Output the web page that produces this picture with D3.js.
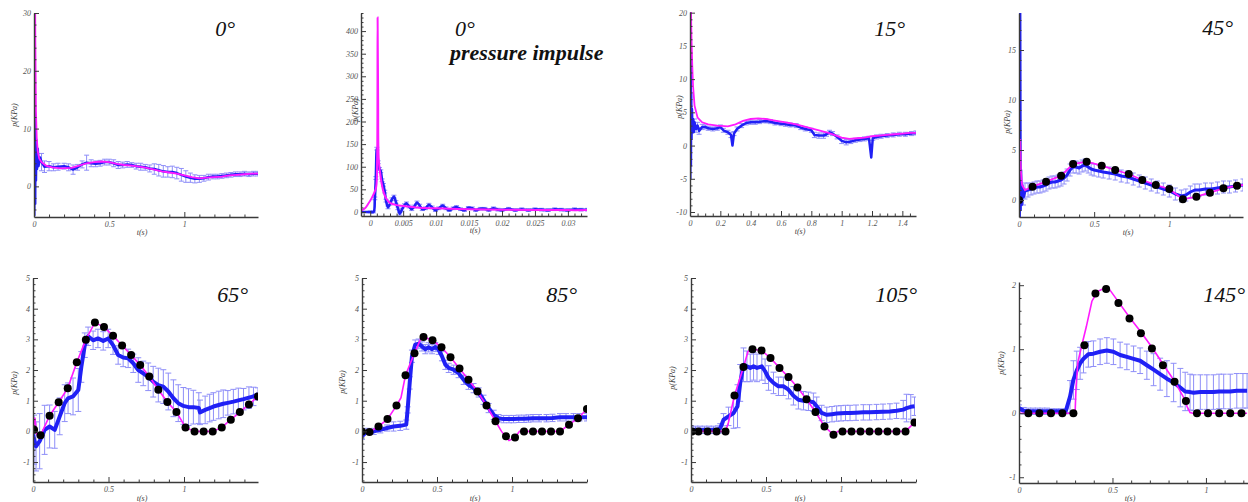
<!DOCTYPE html>
<html>
<head>
<meta charset="utf-8">
<script src="https://cdn.jsdelivr.net/npm/d3@7"></script>
<style>
  html, body { margin: 0; padding: 0; background: #fff; }
  svg { display: block; }
</style>
</head>
<body>
<svg id="chart" width="1248" height="502"></svg>
<script>
// ---------------- data: simulation (magenta) [t, p] ----------------
const sim0 = [[0,0],[0.001,40],[0.006,40],[0.009,25],[0.013,13],[0.018,8.5],[0.025,6],[0.035,4.8],[0.05,4.2],[0.08,3.6],[0.12,3.3],[0.18,3.1],[0.25,3.2],[0.3,3.6],[0.35,4.0],[0.4,4.2],[0.45,4.3],[0.5,4.2],[0.55,3.9],[0.6,3.7],[0.65,3.6],[0.7,3.4],[0.75,3.2],[0.8,2.9],[0.85,2.6],[0.9,2.4],[0.95,2.2],[1.0,1.9],[1.05,1.6],[1.1,1.4],[1.15,1.5],[1.2,1.6],[1.25,1.7],[1.3,1.9],[1.35,2.0],[1.4,2.1],[1.45,2.2],[1.49,2.2]];
const simImp = [[-0.0014,3],[-0.0008,8],[-0.0003,18],[0.0002,30],[0.0006,42],[0.0009,55],[0.00105,120],[0.00112,430],[0.0012,250],[0.0013,115],[0.0016,75],[0.002,45],[0.0025,28],[0.003,20],[0.004,15],[0.005,13],[0.007,10],[0.01,8],[0.015,6],[0.02,5],[0.025,4.5],[0.03,4],[0.033,4]];
const sim15 = [[0,0],[0.001,21],[0.006,21],[0.01,16],[0.015,12],[0.02,9],[0.03,6],[0.05,4.2],[0.08,3.5],[0.12,3.2],[0.18,3.0],[0.25,2.9],[0.3,3.2],[0.35,3.7],[0.4,4.0],[0.45,4.1],[0.5,4.0],[0.55,3.8],[0.6,3.6],[0.65,3.4],[0.7,3.2],[0.75,2.9],[0.8,2.6],[0.85,2.3],[0.9,2.0],[0.95,1.6],[1.0,1.2],[1.05,1.0],[1.1,1.1],[1.15,1.2],[1.2,1.4],[1.25,1.5],[1.3,1.6],[1.35,1.7],[1.4,1.8],[1.45,1.9],[1.49,1.9]];
const sim45 = [[0,0],[0.003,6],[0.008,6],[0.012,3],[0.02,1.5],[0.04,1.0],[0.09,1.33],[0.18,1.83],[0.28,2.43],[0.36,3.6],[0.45,3.83],[0.55,3.43],[0.64,3.0],[0.73,2.6],[0.82,2.0],[0.91,1.5],[1.0,1.1],[1.09,0.07],[1.18,0.33],[1.27,0.73],[1.36,1.17],[1.45,1.43],[1.49,1.5]];
const sim65 = [[0,0],[0.012,0.45],[0.025,-0.1],[0.05,-0.13],[0.11,0.51],[0.17,0.95],[0.23,1.41],[0.29,2.25],[0.35,2.99],[0.41,3.55],[0.47,3.4],[0.53,3.12],[0.59,2.8],[0.65,2.49],[0.71,2.16],[0.77,1.79],[0.83,1.36],[0.89,0.96],[0.95,0.63],[1.01,0.13],[1.07,0],[1.13,0],[1.19,0],[1.25,0.13],[1.31,0.38],[1.37,0.63],[1.43,0.88],[1.49,1.14]];
const sim85 = [[0,0],[0.05,-0.02],[0.11,0.16],[0.17,0.4],[0.23,0.84],[0.26,1.1],[0.29,1.83],[0.35,2.55],[0.39,3.0],[0.41,3.08],[0.47,2.97],[0.53,2.74],[0.59,2.42],[0.65,2.05],[0.71,1.68],[0.77,1.3],[0.83,0.84],[0.89,0.33],[0.93,0.0],[0.98,-0.3],[1.02,-0.2],[1.05,0],[1.08,0],[1.14,0],[1.2,0],[1.26,0],[1.32,0],[1.38,0.22],[1.44,0.43],[1.5,0.73]];
const sim105 = [[0,0],[0.23,0],[0.25,0.3],[0.29,1.17],[0.35,2.1],[0.38,2.6],[0.41,2.68],[0.47,2.64],[0.53,2.39],[0.59,2.07],[0.65,1.77],[0.71,1.43],[0.77,1.05],[0.83,0.63],[0.89,0.16],[0.95,-0.11],[0.98,0],[1.01,0],[1.07,0],[1.13,0],[1.19,0],[1.25,0],[1.31,0],[1.37,0],[1.43,0],[1.49,0.29]];
const sim145 = [[0,0],[0.3,0],[0.305,0.4],[0.315,0.8],[0.335,1.05],[0.36,1.35],[0.39,1.75],[0.42,1.9],[0.46,1.96],[0.48,1.95],[0.532,1.74],[0.591,1.5],[0.652,1.27],[0.711,1.03],[0.77,0.77],[0.832,0.5],[0.88,0.25],[0.9,0.1],[0.915,0.01],[0.93,0],[1.22,0]];

// ---------------- data: experiment mean (blue) [t, p, error] ----------------
const exp0 = [[0,0,0],[0.002,-5,0],[0.004,22,0],[0.006,3,0],[0.008,-3,0],[0.01,12,0],[0.013,1,0],[0.016,8,0],[0.02,3,0],[0.025,6.5,0],[0.03,3.5,0],[0.04,5,0],[0.05,4.2,1.5],[0.07,3.4,1.0],[0.1,3.5,0.8],[0.13,3.3,0.6],[0.16,3.4,0.6],[0.2,3.5,0.5],[0.23,3.3,0.6],[0.26,2.9,0.8],[0.29,3.3,0.5],[0.32,3.8,0.6],[0.35,4.1,1.3],[0.38,4.0,0.6],[0.41,3.9,0.5],[0.44,4.0,0.5],[0.47,4.2,0.5],[0.5,4.2,0.5],[0.53,4.0,0.6],[0.56,3.7,0.6],[0.59,3.7,0.5],[0.62,3.8,0.5],[0.65,3.7,0.4],[0.68,3.5,0.5],[0.71,3.4,0.6],[0.74,3.3,0.5],[0.77,3.1,0.6],[0.8,3.0,0.9],[0.83,2.8,1.0],[0.86,2.6,1.0],[0.89,2.5,0.9],[0.92,2.5,1.0],[0.95,2.3,1.0],[0.98,2.0,1.1],[1.01,1.7,1.0],[1.04,1.5,0.8],[1.07,1.3,0.7],[1.1,1.3,0.6],[1.13,1.4,0.5],[1.16,1.6,0.5],[1.19,1.7,0.4],[1.22,1.7,0.4],[1.25,1.8,0.4],[1.28,1.9,0.4],[1.31,2.0,0.4],[1.34,2.1,0.4],[1.37,2.1,0.4],[1.4,2.2,0.4],[1.43,2.1,0.4],[1.46,2.2,0.4],[1.49,2.2,0.4]];
const expImp = [[-0.0014,0,0],[0,0,2],[0.0005,0,2],[0.0007,30,3],[0.00085,75,3],[0.001,140,3],[0.0012,110,3],[0.0014,95,3],[0.0016,90,3],[0.0018,70,3],[0.002,60,3],[0.0022,45,3],[0.0024,25,3],[0.0027,10,3],[0.003,18,3],[0.0033,28,3],[0.0036,34,3],[0.0039,22,3],[0.0042,8,3],[0.0045,-4,3],[0.0048,5,3],[0.0052,15,3],[0.0055,19,3],[0.0059,12,3],[0.0063,6,3],[0.0067,12,3],[0.0071,21,3],[0.0075,14,3],[0.0079,6,3],[0.0084,8,3],[0.0089,16,3],[0.0094,10,3],[0.0099,4,3],[0.0104,8,3],[0.011,14,3],[0.0115,8,3],[0.012,4,3],[0.0126,8,3],[0.0131,11,3],[0.0137,6,3],[0.0143,4,3],[0.0149,9,3],[0.0155,8,3],[0.016,4,3],[0.0167,7,3],[0.0174,7,3],[0.018,4,3],[0.0187,8,3],[0.0194,5,3],[0.02,4,3],[0.021,7,3],[0.022,4,3],[0.023,6,3],[0.024,4,3],[0.025,6,3],[0.026,5,3],[0.027,4,3],[0.028,6,3],[0.029,5,3],[0.03,4,3],[0.031,6,3],[0.032,5,3],[0.033,5,3]];
const exp15 = [[0,0,0],[0.002,-5,0],[0.004,20,0],[0.006,-3,0],[0.008,8,0],[0.01,1,0],[0.013,5.5,0],[0.016,2,0],[0.02,4,0],[0.025,2,0],[0.03,3.5,0.5],[0.04,2.5,0.5],[0.05,3.0,0.5],[0.06,2.2,0.5],[0.08,2.8,0.4],[0.1,2.8,0.3],[0.12,2.6,0.3],[0.15,2.5,0.3],[0.18,2.6,0.3],[0.2,2.8,0.3],[0.22,2.3,0.3],[0.25,2.0,0.3],[0.27,1.6,0.4],[0.28,0.0,0],[0.29,1.8,0.3],[0.31,2.5,0.3],[0.34,3.0,0.3],[0.37,3.4,0.3],[0.4,3.5,0.3],[0.43,3.5,0.3],[0.46,3.6,0.3],[0.5,3.7,0.3],[0.53,3.6,0.3],[0.56,3.4,0.3],[0.6,3.3,0.3],[0.63,3.2,0.3],[0.66,3.1,0.3],[0.7,3.0,0.3],[0.73,2.7,0.3],[0.76,2.5,0.3],[0.8,2.3,0.3],[0.82,1.6,0.4],[0.85,1.5,0.4],[0.88,1.5,0.4],[0.9,1.7,0.3],[0.92,2.0,0.3],[0.94,1.8,0.3],[0.97,1.3,0.3],[1.0,0.7,0.4],[1.03,0.5,0.4],[1.06,0.6,0.3],[1.09,0.8,0.3],[1.12,0.9,0.3],[1.15,1.0,0.3],[1.18,1.1,0.3],[1.195,-1.8,0],[1.205,1.1,0.3],[1.23,1.3,0.3],[1.26,1.4,0.3],[1.3,1.5,0.3],[1.34,1.6,0.3],[1.38,1.7,0.3],[1.42,1.7,0.3],[1.46,1.8,0.3],[1.49,1.9,0.3]];
const exp45 = [[0,0,0],[0.003,-1.7,0],[0.006,19,0],[0.009,-1,0],[0.012,3,0],[0.016,-0.5,0],[0.02,1.5,0],[0.03,0.3,0.8],[0.04,0.9,0.8],[0.06,1.0,0.7],[0.08,1.1,0.6],[0.1,1.2,0.6],[0.12,1.3,0.6],[0.14,1.3,0.6],[0.16,1.4,0.6],[0.18,1.5,0.6],[0.2,1.7,0.6],[0.22,1.8,0.6],[0.24,1.8,0.6],[0.26,1.9,0.6],[0.28,2.0,0.6],[0.3,2.2,0.6],[0.32,2.5,0.6],[0.34,3.0,0.6],[0.36,3.3,0.6],[0.38,3.3,0.6],[0.4,3.2,0.6],[0.42,3.4,0.6],[0.44,3.5,0.6],[0.46,3.3,0.6],[0.48,3.1,0.6],[0.5,3.0,0.6],[0.53,2.9,0.6],[0.56,2.8,0.6],[0.6,2.7,0.6],[0.64,2.6,0.6],[0.68,2.4,0.6],[0.72,2.3,0.6],[0.76,2.1,0.6],[0.8,1.9,0.6],[0.84,1.7,0.6],[0.88,1.5,0.6],[0.92,1.3,0.6],[0.96,1.1,0.6],[1.0,0.9,0.6],[1.04,0.6,0.6],[1.08,0.4,0.6],[1.11,0.5,0.6],[1.14,0.8,0.6],[1.17,1.0,0.6],[1.2,1.0,0.6],[1.24,1.1,0.6],[1.28,1.1,0.6],[1.32,1.2,0.6],[1.36,1.3,0.6],[1.4,1.3,0.6],[1.44,1.4,0.6],[1.49,1.5,0.6]];
const exp65 = [[0,-0.1,0.5],[0.007,-0.27,0.8],[0.02,-0.49,0.8],[0.044,-0.32,0.9],[0.077,0.05,0.8],[0.11,0.16,0.7],[0.144,0.05,0.6],[0.177,0.49,0.6],[0.21,0.92,0.6],[0.232,1.08,0.5],[0.265,1.14,0.6],[0.3,1.35,0.7],[0.32,2.1,0.5],[0.343,2.81,0.4],[0.365,3.1,0.3],[0.398,2.97,0.3],[0.43,3.03,0.3],[0.465,2.95,0.3],[0.498,3.03,0.3],[0.53,2.81,0.3],[0.564,2.49,0.3],[0.597,2.41,0.3],[0.63,2.38,0.3],[0.664,2.22,0.3],[0.697,2.0,0.4],[0.73,1.89,0.4],[0.763,1.78,0.45],[0.796,1.62,0.5],[0.83,1.51,0.55],[0.863,1.46,0.55],[0.896,1.3,0.6],[0.93,1.08,0.6],[0.962,0.92,0.6],[0.996,0.83,0.6],[1.03,0.79,0.6],[1.062,0.79,0.55],[1.098,0.76,0.5],[1.106,0.62,0.4],[1.14,0.7,0.45],[1.17,0.76,0.45],[1.195,0.81,0.45],[1.23,0.86,0.45],[1.26,0.9,0.45],[1.29,0.93,0.4],[1.327,0.97,0.4],[1.36,1.01,0.4],[1.394,1.05,0.35],[1.43,1.1,0.35],[1.46,1.14,0.3],[1.49,1.22,0.2]];
const exp85 = [[0,-0.16,0.1],[0.033,0,0.1],[0.078,0,0.1],[0.122,0.05,0.1],[0.167,0.11,0.1],[0.21,0.16,0.15],[0.255,0.18,0.15],[0.295,0.22,0.15],[0.304,0.7,0.1],[0.318,1.58,0.2],[0.333,2.45,0.2],[0.355,2.83,0.15],[0.378,2.86,0.15],[0.4,2.77,0.15],[0.422,2.68,0.15],[0.444,2.74,0.15],[0.467,2.68,0.15],[0.489,2.75,0.15],[0.511,2.66,0.15],[0.533,2.45,0.15],[0.556,2.17,0.15],[0.578,2.07,0.15],[0.611,2.01,0.15],[0.644,1.9,0.15],[0.678,1.68,0.15],[0.71,1.52,0.15],[0.744,1.41,0.15],[0.778,1.27,0.15],[0.81,1.03,0.15],[0.844,0.76,0.15],[0.878,0.54,0.15],[0.91,0.43,0.12],[0.944,0.4,0.12],[0.98,0.4,0.12],[1.01,0.4,0.12],[1.045,0.41,0.12],[1.08,0.41,0.12],[1.11,0.42,0.12],[1.14,0.43,0.12],[1.18,0.43,0.12],[1.23,0.43,0.12],[1.27,0.44,0.12],[1.32,0.46,0.12],[1.36,0.46,0.12],[1.41,0.46,0.12],[1.45,0.46,0.12],[1.5,0.46,0.12]];
const exp105 = [[0,0.05,0.12],[0.03,0.05,0.12],[0.06,0.05,0.12],[0.09,0.05,0.12],[0.12,0.05,0.12],[0.15,0.05,0.12],[0.18,0.06,0.12],[0.195,0.1,0.15],[0.217,0.38,0.2],[0.25,0.49,0.3],[0.284,0.6,0.5],[0.31,0.82,0.7],[0.328,1.58,0.6],[0.35,2.17,0.55],[0.373,2.12,0.5],[0.395,2.07,0.45],[0.417,2.12,0.45],[0.44,2.07,0.45],[0.472,2.12,0.45],[0.494,1.96,0.4],[0.517,1.74,0.4],[0.55,1.58,0.35],[0.583,1.47,0.3],[0.616,1.47,0.3],[0.65,1.36,0.3],[0.683,1.16,0.3],[0.716,1.03,0.3],[0.75,1.0,0.3],[0.783,0.98,0.3],[0.816,0.95,0.3],[0.838,0.82,0.3],[0.871,0.6,0.25],[0.905,0.54,0.25],[0.94,0.56,0.25],[0.971,0.58,0.25],[1.0,0.59,0.25],[1.03,0.6,0.25],[1.06,0.6,0.25],[1.1,0.61,0.25],[1.149,0.62,0.25],[1.19,0.62,0.25],[1.237,0.63,0.25],[1.28,0.64,0.25],[1.326,0.65,0.25],[1.37,0.67,0.25],[1.415,0.71,0.3],[1.437,0.76,0.45],[1.465,0.8,0.4],[1.49,0.82,0.3]];
const exp145 = [[0,0.08,0.05],[0.025,0.04,0.05],[0.05,0.03,0.05],[0.075,0.03,0.05],[0.1,0.03,0.05],[0.125,0.03,0.05],[0.15,0.03,0.05],[0.175,0.03,0.04],[0.2,0.03,0.04],[0.225,0.03,0.04],[0.25,0.03,0.04],[0.273,0.26,0.25],[0.291,0.52,0.3],[0.309,0.67,0.3],[0.327,0.78,0.25],[0.345,0.85,0.22],[0.371,0.92,0.2],[0.398,0.93,0.2],[0.434,0.96,0.2],[0.47,0.98,0.2],[0.505,0.96,0.2],[0.541,0.91,0.2],[0.577,0.88,0.2],[0.613,0.85,0.2],[0.648,0.82,0.2],[0.684,0.75,0.22],[0.72,0.68,0.25],[0.755,0.61,0.25],[0.791,0.54,0.28],[0.827,0.48,0.3],[0.863,0.4,0.3],[0.889,0.34,0.3],[0.915,0.33,0.28],[0.934,0.32,0.28],[0.97,0.33,0.27],[1.005,0.33,0.27],[1.04,0.33,0.27],[1.07,0.34,0.27],[1.095,0.34,0.27],[1.13,0.34,0.27],[1.165,0.35,0.27],[1.198,0.35,0.27],[1.22,0.35,0.27]];

// ---------------- data: sampled model points (black dots) [t, p] ----------------
const dots45 = [[0,0],[0.09,1.33],[0.18,1.83],[0.28,2.43],[0.36,3.6],[0.45,3.83],[0.55,3.43],[0.64,3.0],[0.73,2.6],[0.82,2.0],[0.91,1.5],[1.0,1.1],[1.09,0.07],[1.18,0.33],[1.27,0.73],[1.36,1.17],[1.45,1.43]];
const dots65 = [[0.007,0.05],[0.05,-0.13],[0.11,0.51],[0.17,0.95],[0.23,1.41],[0.29,2.25],[0.35,2.99],[0.41,3.55],[0.47,3.4],[0.53,3.12],[0.59,2.8],[0.65,2.49],[0.71,2.16],[0.77,1.79],[0.83,1.36],[0.89,0.96],[0.95,0.63],[1.01,0.13],[1.07,0],[1.13,0],[1.19,0],[1.25,0.13],[1.31,0.38],[1.37,0.63],[1.43,0.88],[1.49,1.14]];
const dots85 = [[0.0,0],[0.05,-0.02],[0.11,0.16],[0.17,0.4],[0.23,0.84],[0.29,1.83],[0.35,2.55],[0.41,3.08],[0.47,2.97],[0.53,2.74],[0.59,2.42],[0.65,2.05],[0.71,1.68],[0.77,1.3],[0.83,0.84],[0.89,0.33],[0.96,-0.16],[1.02,-0.2],[1.08,0],[1.14,0],[1.2,0],[1.26,0],[1.32,0],[1.38,0.22],[1.44,0.43],[1.5,0.73]];
const dots105 = [[0.007,0],[0.05,0],[0.11,0],[0.17,0],[0.23,0],[0.29,1.17],[0.35,2.1],[0.41,2.68],[0.47,2.64],[0.53,2.39],[0.59,2.07],[0.65,1.77],[0.71,1.43],[0.77,1.05],[0.83,0.63],[0.89,0.16],[0.95,-0.11],[1.01,0],[1.07,0],[1.13,0],[1.19,0],[1.25,0],[1.31,0],[1.37,0],[1.43,0],[1.49,0.29]];
const dots145 = [[0.05,0],[0.109,0],[0.171,0],[0.232,0],[0.291,0],[0.35,1.06],[0.409,1.87],[0.466,1.94],[0.532,1.72],[0.591,1.48],[0.652,1.25],[0.711,1.01],[0.77,0.75],[0.832,0.49],[0.893,0.19],[0.952,0],[1.011,0],[1.071,0],[1.13,0],[1.19,0]];

// ---------------- tick labels ----------------
const xTicksLong = [0, 0.5, 1];
const xTicksImp = [0, 0.005, 0.01, 0.015, 0.02, 0.025, 0.03];
const xTicks15 = [0, 0.2, 0.4, 0.6, 0.8, 1, 1.2, 1.4];
const yTicks0 = [0, 10, 20, 30];
const yTicksImp = [0, 50, 100, 150, 200, 250, 300, 350, 400];
const yTicks15 = [-10, -5, 0, 5, 10, 15, 20];
const yTicks45 = [0, 5, 10, 15];
const yTicksLow = [-1, 0, 1, 2, 3, 4, 5];
const yTicks145 = [-1, 0, 1, 2];

// panel titles
const titles = ["0°", "0°", "15°", "45°", "65°", "85°", "105°", "145°"];
const subtitle = "pressure impulse";

// ---------------- layout ----------------
const panels = [
  { sim: sim0,   exp: exp0,   dots: null,    box: [34, 258, 13, 217],   xd: [0, 1.49], yd: [-5.3, 30],   xt: xTicksLong, xm: 0.1,   yt: yTicks0,   ym: 2,   lw: 2.5, sw: 1.8, title: [235, 36],  ylab: [15, 115],   xlab: [142, 235] },
  { sim: simImp, exp: expImp, dots: null,    box: [361, 587, 13, 216],  xd: [-0.0014, 0.0329], yd: [-9, 440], xt: xTicksImp, xm: 0.001, yt: yTicksImp, ym: 10, lw: 2.6, sw: 2, title: [475, 36], ylab: [356, 110], xlab: [475, 233], curve: d3.curveCatmullRom },
  { sim: sim15,  exp: exp15,  dots: null,    box: [690, 916, 12, 216],  xd: [0, 1.49], yd: [-10.6, 20.1], xt: xTicks15,  xm: 0.05,  yt: yTicks15,  ym: 1,   lw: 2.5, sw: 1.8, title: [905, 36],  ylab: [680, 107],  xlab: [800, 234] },
  { sim: sim45,  exp: exp45,  dots: dots45,  box: [1019, 1243, 13, 217],xd: [0, 1.49], yd: [-1.7, 18.7], xt: xTicksLong, xm: 0.1,   yt: yTicks45,  ym: 1,   lw: 3,   sw: 1.8, title: [1233, 35], ylab: [1008, 122], xlab: [1128, 235] },
  { sim: sim65,  exp: exp65,  dots: dots65,  box: [33, 258, 278, 482],  xd: [0, 1.49], yd: [-1.65, 5],   xt: xTicksLong, xm: 0.1,   yt: yTicksLow, ym: 0.2, lw: 4,   sw: 1.6, title: [248, 302], ylab: [15, 383],   xlab: [142, 501] },
  { sim: sim85,  exp: exp85,  dots: dots85,  box: [362, 587, 278, 482], xd: [0, 1.5],  yd: [-1.65, 5],   xt: xTicksLong, xm: 0.1,   yt: yTicksLow, ym: 0.2, lw: 4,   sw: 1.6, title: [577, 302], ylab: [343, 382],  xlab: [475, 501] },
  { sim: sim105, exp: exp105, dots: dots105, box: [691, 916, 278, 482], xd: [0, 1.5],  yd: [-1.65, 5],   xt: xTicksLong, xm: 0.1,   yt: yTicksLow, ym: 0.2, lw: 4,   sw: 1.6, title: [917, 302], ylab: [673, 378],  xlab: [800, 501] },
  { sim: sim145, exp: exp145, dots: dots145, box: [1019, 1248, 282, 483], xd: [0, 1.225], yd: [-1.09, 2.05], xt: xTicksLong, xm: 0.1, yt: yTicks145, ym: 0.2, lw: 4, sw: 1.6, title: [1245, 302], ylab: [1002, 363], xlab: [1130, 501] }
];

const BLUE = "#2020f5";
const ERR = "#8e8ef8";
const MAGENTA = "#ff1aff";
const AXIS = "#3a3a3a";
const SERIF = "'Liberation Serif', 'Times New Roman', serif";

const svg = d3.select("#chart");

function minorValues(domain, step, majors) {
  const lo = Math.ceil(domain[0] / step - 1e-9), hi = Math.floor(domain[1] / step + 1e-9);
  return d3.range(lo, hi + 1).map(i => +(i * step).toFixed(6))
    .filter(v => !majors.some(m => Math.abs(m - v) < step * 1e-3));
}

panels.forEach((p, i) => {
  const [L, R, T, B] = p.box;
  const x = d3.scaleLinear().domain(p.xd).range([L, R]);
  const y = d3.scaleLinear().domain(p.yd).range([B, T]);
  const g = svg.append("g");

  const clipId = "clip" + i;
  svg.append("clipPath").attr("id", clipId)
    .append("rect").attr("x", L).attr("y", T).attr("width", R - L).attr("height", B - T);

  const plot = g.append("g").attr("clip-path", `url(#${clipId})`);

  // error bars
  const bars = p.exp.filter(d => d[2] > 0);
  const cap = p.lw >= 4 ? 3 : 2.5;
  plot.append("g").selectAll("path").data(bars).join("path")
    .attr("d", d => {
      const xx = x(d[0]), y1 = y(d[1] + d[2]), y0 = y(d[1] - d[2]);
      return `M${xx},${y0}V${y1}M${xx - cap},${y1}H${xx + cap}M${xx - cap},${y0}H${xx + cap}`;
    })
    .attr("fill", "none").attr("stroke", ERR).attr("stroke-width", 1);

  // experiment mean
  plot.append("path").datum(p.exp)
    .attr("d", d3.line().x(d => x(d[0])).y(d => y(d[1])).curve(p.curve || d3.curveLinear))
    .attr("fill", "none").attr("stroke", BLUE).attr("stroke-width", p.lw)
    .attr("stroke-linejoin", "round");

  // simulation
  plot.append("path").datum(p.sim)
    .attr("d", d3.line().x(d => x(d[0])).y(d => y(d[1])).curve(p.curve || d3.curveLinear))
    .attr("fill", "none").attr("stroke", MAGENTA).attr("stroke-width", p.sw);

  // sampled points
  if (p.dots) {
    plot.append("g").selectAll("circle").data(p.dots).join("circle")
      .attr("cx", d => x(d[0])).attr("cy", d => y(d[1])).attr("r", 4)
      .attr("fill", "#000");
  }

  // axes: ticks point into the plot
  const fmt = d => String(d);
  g.append("g").attr("transform", `translate(${L},0)`)
    .call(d3.axisLeft(y).tickValues(p.yt).tickFormat(fmt).tickSizeInner(-5).tickSizeOuter(0).tickPadding(3));
  g.append("g").attr("transform", `translate(${L},0)`)
    .call(d3.axisLeft(y).tickValues(minorValues(p.yd, p.ym, p.yt)).tickFormat("").tickSizeInner(-2.5).tickSizeOuter(0))
    .select(".domain").remove();
  g.append("g").attr("transform", `translate(0,${B})`)
    .call(d3.axisBottom(x).tickValues(p.xt).tickFormat(fmt).tickSizeInner(-5).tickSizeOuter(0).tickPadding(4));
  g.append("g").attr("transform", `translate(0,${B})`)
    .call(d3.axisBottom(x).tickValues(minorValues(p.xd, p.xm, p.xt)).tickFormat("").tickSizeInner(-2.5).tickSizeOuter(0))
    .select(".domain").remove();

  g.selectAll(".domain").attr("stroke", AXIS).attr("stroke-width", 1.4);
  g.selectAll(".tick line").attr("stroke", AXIS).attr("stroke-width", 1);
  g.selectAll(".tick text").attr("fill", "#555").attr("font-family", SERIF)
    .attr("font-style", "italic").attr("font-size", 8);

  // axis titles
  g.append("text").attr("transform", `translate(${p.ylab[0]},${p.ylab[1]}) rotate(-90)`)
    .attr("text-anchor", "middle").attr("dominant-baseline", "middle")
    .attr("font-family", SERIF).attr("font-style", "italic").attr("font-size", 8).attr("fill", "#444")
    .text("p(KPa)");
  g.append("text").attr("x", p.xlab[0]).attr("y", p.xlab[1])
    .attr("text-anchor", "middle")
    .attr("font-family", SERIF).attr("font-style", "italic").attr("font-size", 8).attr("fill", "#444")
    .text("t(s)");

  // panel title
  const tt = g.append("text").attr("x", p.title[0]).attr("y", p.title[1])
    .attr("text-anchor", "end")
    .attr("font-family", SERIF).attr("font-style", "italic").attr("font-size", 22).attr("fill", "#111")
    .text(titles[i]);
  if (i === 1) {
    tt.attr("text-anchor", "start").attr("x", 455);
    g.append("text").attr("x", 450).attr("y", 60)
      .attr("font-family", SERIF).attr("font-style", "italic").attr("font-weight", "bold")
      .attr("font-size", 22).attr("fill", "#111")
      .text(subtitle);
  }
});
</script>
</body>
</html>
